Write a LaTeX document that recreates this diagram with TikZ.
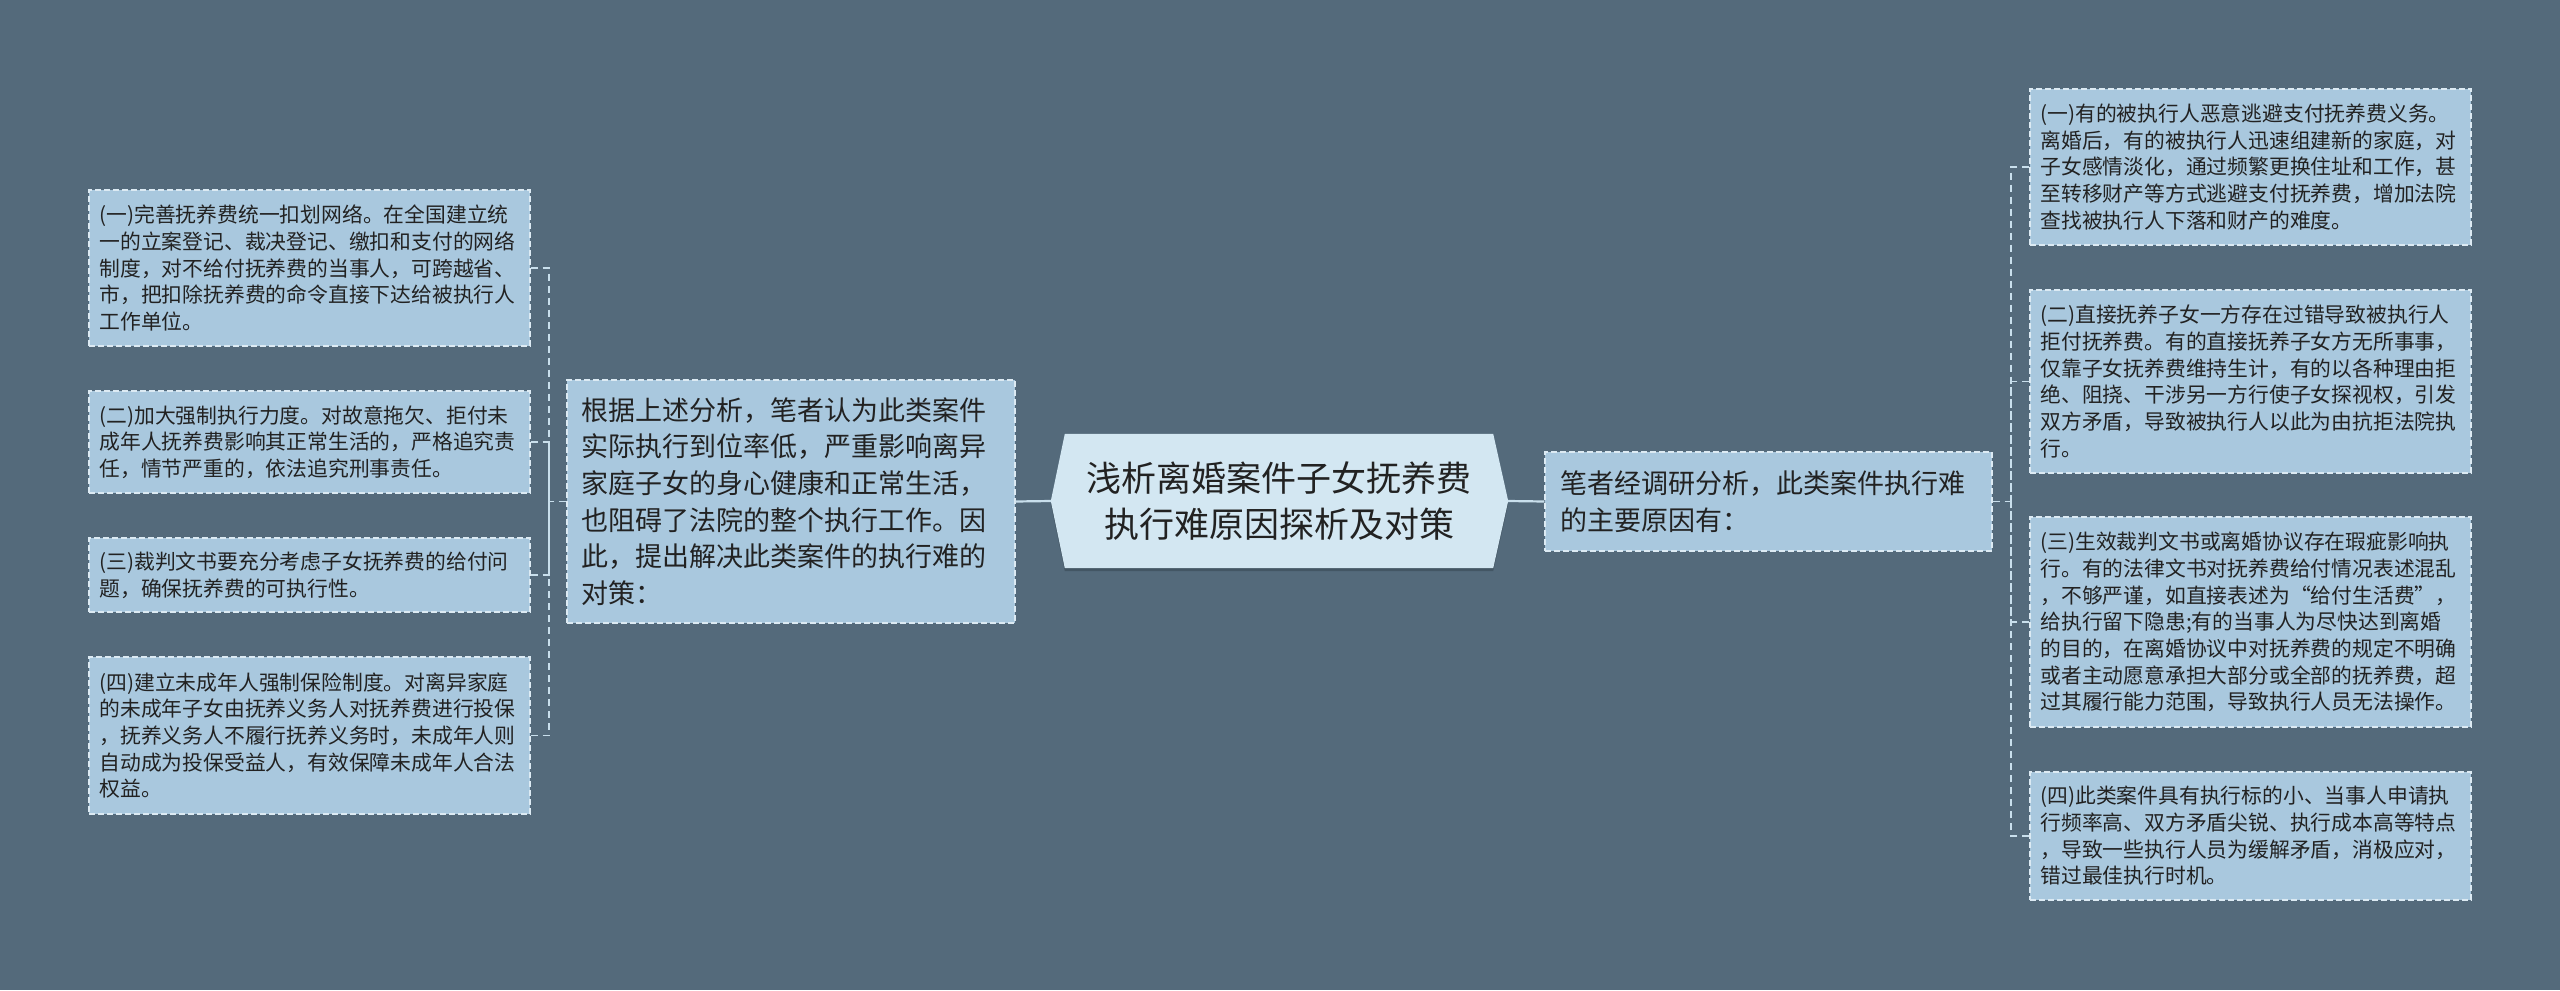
\documentclass[tikz,border=0pt]{standalone}
\usepackage{fontspec}
\setmainfont{Noto Sans CJK SC}
\usetikzlibrary{calc}
\definecolor{bgc}{HTML}{546A7B}
\definecolor{boxc}{HTML}{A9C8DE}
\definecolor{bdrc}{HTML}{DCEAF3}
\definecolor{linec}{HTML}{C9DFEC}
\definecolor{cenc}{HTML}{D3E7F2}
\definecolor{shadc}{HTML}{435664}
\definecolor{txtc}{HTML}{222222}
\begin{document}
\begin{tikzpicture}[x=1bp,y=-1bp,
  leaf/.style={draw=bdrc, dash pattern=on 6bp off 3bp, fill=boxc, line width=1.3bp, text=txtc,
    font=\fontsize{20.8bp}{26.7bp}\selectfont, align=left, text width=420bp,
    inner xsep=10.5bp, inner ysep=0pt, minimum width=441bp, anchor=center},
  midbox/.style={draw=bdrc, dash pattern=on 6bp off 3bp, fill=boxc, line width=1.3bp, text=txtc,
    font=\fontsize{27bp}{36.7bp}\selectfont, align=left,
    inner ysep=0pt, anchor=center},
  conn/.style={draw=linec, line width=1.8bp, dash pattern=on 7bp off 5bp},
  solidconn/.style={draw=linec, line width=2.2bp}]
\fill[bgc] (0,0) rectangle (2560,990);
\useasboundingbox (0,0) rectangle (2560,990);

% center node frame
\node[minimum width=428bp, minimum height=134bp, inner sep=0pt] (cf) at (1279,501) {};
\coordinate (cl) at ($(cf.west)+(-14,0)$);
\coordinate (cr) at ($(cf.east)+(15,0)$);
\fill[shadc] ($(cf.north west)+(0,3)$) -- ($(cf.north east)+(0,3)$) -- ($(cr)+(0,3)$) -- ($(cf.south east)+(0,3)$) -- ($(cf.south west)+(0,3)$) -- ($(cl)+(0,3)$) -- cycle;
\fill[cenc] (cf.north west) -- (cf.north east) -- (cr) -- (cf.south east) -- (cf.south west) -- (cl) -- cycle;
\node[text=txtc, font=\fontsize{35bp}{46.7bp}\selectfont, align=center, inner sep=0pt] (c) at (cf.center) {浅析离婚案件子女抚养费\\执行难原因探析及对策};

% middle boxes
\node[midbox, text width=419bp, inner xsep=14.5bp, minimum height=243bp] (ml) at (791,501.5)
 {根据上述分析，笔者认为此类案件\\实际执行到位率低，严重影响离异\\家庭子女的身心健康和正常生活，\\也阻碍了法院的整个执行工作。因\\此，提出解决此类案件的执行难的\\对策：};
\node[midbox, text width=417bp, inner xsep=15bp, minimum height=99bp] (mr) at (1768.5,501.5)
 {笔者经调研分析，此类案件执行难\\的主要原因有：};

% left leaves
\node[leaf, minimum height=156bp] (l1) at (309.5,268)
 {(一)完善抚养费统一扣划网络。在全国建立统\\一的立案登记、裁决登记、缴扣和支付的网络\\制度，对不给付抚养费的当事人，可跨越省、\\市，把扣除抚养费的命令直接下达给被执行人\\工作单位。};
\node[leaf, minimum height=102bp] (l2) at (309.5,442)
 {(二)加大强制执行力度。对故意拖欠、拒付未\\成年人抚养费影响其正常生活的，严格追究责\\任，情节严重的，依法追究刑事责任。};
\node[leaf, minimum height=74bp] (l3) at (309.5,575)
 {(三)裁判文书要充分考虑子女抚养费的给付问\\题，确保抚养费的可执行性。};
\node[leaf, minimum height=157bp] (l4) at (309.5,735.5)
 {(四)建立未成年人强制保险制度。对离异家庭\\的未成年子女由抚养义务人对抚养费进行投保\\，抚养义务人不履行抚养义务时，未成年人则\\自动成为投保受益人，有效保障未成年人合法\\权益。};

% right leaves
\node[leaf, minimum height=156bp] (r1) at (2250.5,167)
 {(一)有的被执行人恶意逃避支付抚养费义务。\\离婚后，有的被执行人迅速组建新的家庭，对\\子女感情淡化，通过频繁更换住址和工作，甚\\至转移财产等方式逃避支付抚养费，增加法院\\查找被执行人下落和财产的难度。};
\node[leaf, minimum height=183bp] (r2) at (2250.5,381.5)
 {(二)直接抚养子女一方存在过错导致被执行人\\拒付抚养费。有的直接抚养子女方无所事事，\\仅靠子女抚养费维持生计，有的以各种理由拒\\绝、阻挠、干涉另一方行使子女探视权，引发\\双方矛盾，导致被执行人以此为由抗拒法院执\\行。};
\node[leaf, minimum height=210bp] (r3) at (2250.5,622)
 {(三)生效裁判文书或离婚协议存在瑕疵影响执\\行。有的法律文书对抚养费给付情况表述混乱\\，不够严谨，如直接表述为“给付生活费”，\\给执行留下隐患;有的当事人为尽快达到离婚\\的目的，在离婚协议中对抚养费的规定不明确\\或者主动愿意承担大部分或全部的抚养费，超\\过其履行能力范围，导致执行人员无法操作。};
\node[leaf, minimum height=128bp] (r4) at (2250.5,836)
 {(四)此类案件具有执行标的小、当事人申请执\\行频率高、双方矛盾尖锐、执行成本高等特点\\，导致一些执行人员为缓解矛盾，消极应对，\\错过最佳执行时机。};

% connectors
\draw[solidconn] (ml.east) -- (cl);
\draw[solidconn] (cr) -- (mr.west);
\coordinate (lj) at (549,501.5);
\coordinate (rj) at (2011,501.5);
\draw[conn] (ml.west) -- (lj);
\draw[conn] (l1.east) -| (lj);
\draw[conn] (l2.east) -| (lj);
\draw[conn] (l3.east) -| (lj);
\draw[conn] (l4.east) -| (lj);
\draw[conn] (mr.east) -- (rj);
\draw[conn] (r1.west) -| (rj);
\draw[conn] (r2.west) -| (rj);
\draw[conn] (r3.west) -| (rj);
\draw[conn] (r4.west) -| (rj);
\end{tikzpicture}
\end{document}
